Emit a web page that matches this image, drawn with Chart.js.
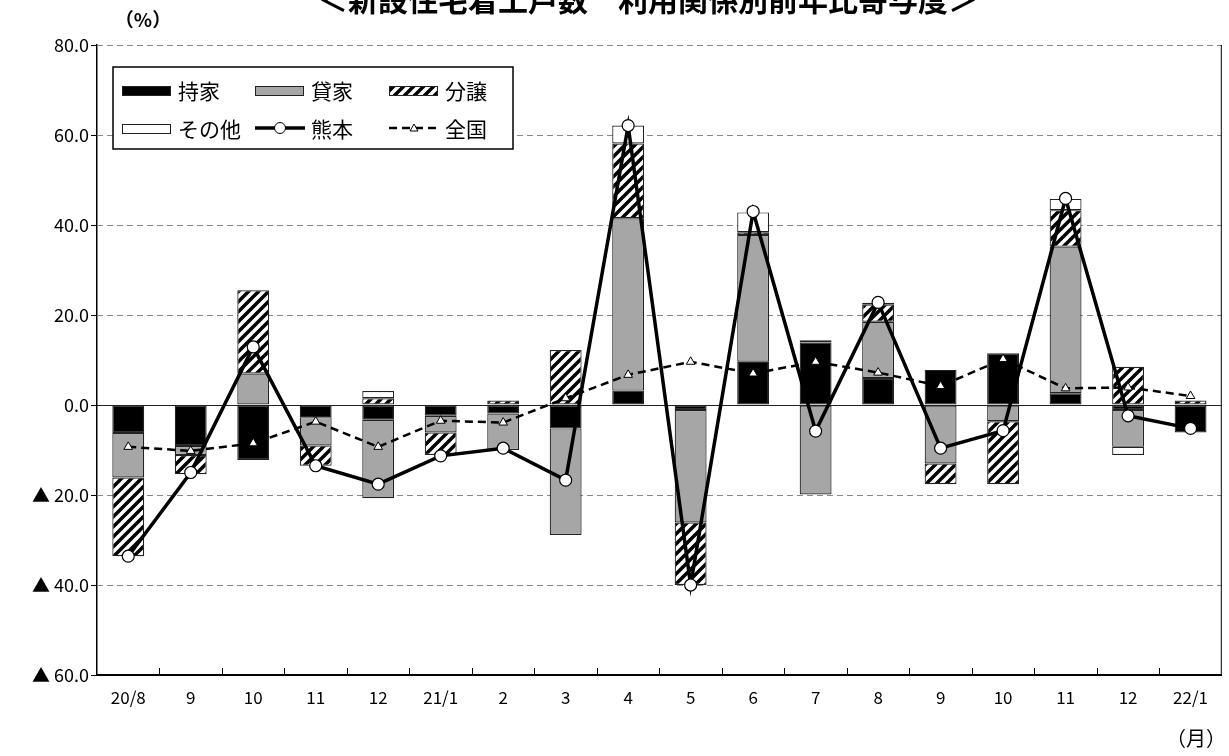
<!DOCTYPE html>
<html>
<head>
<meta charset="utf-8">
<script src="https://cdn.jsdelivr.net/npm/chart.js@4/dist/chart.umd.min.js"></script>
<style>
  html, body { margin: 0; padding: 0; background: #fff; }
  canvas { display: block; }
</style>
</head>
<body>
<canvas id="chart" width="1229" height="756"></canvas>
<script>
const months = ['20/8', '9', '10', '11', '12', '21/1', '2', '3', '4', '5', '6', '7', '8', '9', '10', '11', '12', '22/1'];
const owned   = [-6.2, -9.1, -12.2, -2.7, -3.3, -2.4, -1.9, -5.2, 3.2, -1.1, 9.6, 13.9, 6.0, 7.8, 11.5, 2.6, -1.1, -6.1];
const rental  = [-9.9, -2.0, 7.0, -6.3, -17.4, -3.7, -8.1, -23.7, 38.3, -25.0, 28.2, -19.9, 12.5, -13.0, -3.6, 32.6, -8.2, 0];
const forSale = [-17.5, -4.3, 18.5, -4.5, 1.5, -5.0, 1.0, 12.2, 16.6, -13.9, 0.6, 0.5, 3.8, -4.6, -14.0, 8.1, 8.5, 1.0];
const other   = [0, 0, 0, 0, 1.6, 0, 0, 0, 4.0, 0, 4.4, 0, 0.4, 0, 0, 2.5, -1.8, 0];
const kumamoto = [-33.6, -15.0, 12.9, -13.5, -17.6, -11.3, -9.6, -16.7, 62.1, -40.0, 43.0, -5.8, 22.8, -9.6, -5.7, 45.9, -2.4, -5.2];
const national = [-9.3, -10.2, -8.5, -3.7, -9.3, -3.5, -3.9, 1.5, 6.7, 9.6, 7.0, 9.6, 7.2, 4.2, 10.2, 3.7, 3.9, 2.0];
const yTicks = [80, 60, 40, 20, 0, -20, -40, -60];

const FONT = "'Noto Sans CJK JP', 'Noto Sans', sans-serif";

// diagonal hatch for 分譲
function makeHatch() {
    const c = document.createElement('canvas');
    c.width = 10; c.height = 10;
    const g = c.getContext('2d');
    g.fillStyle = '#fff';
    g.fillRect(0, 0, 10, 10);
    g.strokeStyle = '#000';
    g.lineWidth = 3.5;
    g.beginPath();
    g.moveTo(-5, 5); g.lineTo(5, -5);
    g.moveTo(0, 10); g.lineTo(10, 0);
    g.moveTo(5, 15); g.lineTo(15, 5);
    g.stroke();
    return g.createPattern(c, 'repeat');
}
const ctx = document.getElementById('chart').getContext('2d');
const hatch = makeHatch();

const barBase = {
    type: 'bar',
    stack: 'bars',
    borderColor: '#222',
    borderWidth: 1.2,
    borderSkipped: false,
    barPercentage: 0.51,
    categoryPercentage: 1,
    order: 2
};

const decorations = {
    id: 'decorations',
    beforeDatasetsDraw(chart) {
        const { ctx, chartArea: a, scales: { y } } = chart;
        ctx.save();
        yTicks.forEach(v => {
            if (v === -60) return;
            const py = Math.round(y.getPixelForValue(v)) + 0.5;
            ctx.beginPath();
            if (v === 0) {
                ctx.setLineDash([]);
                ctx.strokeStyle = '#222';
                ctx.lineWidth = 1.2;
            } else {
                ctx.setLineDash([6, 4]);
                ctx.strokeStyle = '#888';
                ctx.lineWidth = 1;
            }
            ctx.moveTo(a.left, py);
            ctx.lineTo(a.right, py);
            ctx.stroke();
        });
        ctx.restore();
    },
    afterDraw(chart) {
        const { ctx, chartArea: a, scales: { x } } = chart;
        ctx.save();
        // right border
        ctx.strokeStyle = '#000';
        ctx.lineWidth = 1;
        ctx.beginPath();
        ctx.moveTo(a.right - 0.5, a.top);
        ctx.lineTo(a.right - 0.5, a.bottom);
        ctx.stroke();
        // inner tick marks between months
        for (let i = 1; i < months.length; i++) {
            const px = Math.round((x.getPixelForTick(i - 1) + x.getPixelForTick(i)) / 2) + 0.5;
            ctx.beginPath();
            ctx.moveTo(px, a.bottom);
            ctx.lineTo(px, a.bottom - 7);
            ctx.stroke();
        }
        // title (cut off at top)
        ctx.fillStyle = '#000';
        ctx.textAlign = 'center';
        ctx.textBaseline = 'middle';
        ctx.font = 'bold 30px ' + FONT;
        ctx.fillText('＜新設住宅着工戸数　利用関係別前年比寄与度＞', 648, 0);
        // units
        ctx.font = 'bold 19px ' + FONT;
        ctx.fillText('（%）', 143, 20);
        ctx.font = '20px ' + FONT;
        ctx.fillText('（月）', 1196, 738);

        // legend
        const lx = 113, ly = 67, lw = 400, lh = 82;
        ctx.fillStyle = '#fff';
        ctx.fillRect(lx, ly, lw, lh);
        ctx.lineWidth = 1.5;
        ctx.strokeStyle = '#000';
        ctx.strokeRect(lx, ly, lw, lh);
        const ds = chart.data.datasets;
        const cols = [122, 255, 389];
        const rows = [90, 128];
        ds.forEach((d, i) => {
            const sx = cols[i % 3], sy = rows[Math.floor(i / 3)];
            ctx.save();
            if (d.type === 'bar') {
                ctx.fillStyle = d.backgroundColor;
                ctx.fillRect(sx, sy - 4, 48, 9);
                ctx.strokeStyle = '#222';
                ctx.lineWidth = 1;
                ctx.strokeRect(sx + 0.5, sy - 4 + 0.5, 48, 9);
            } else {
                ctx.strokeStyle = '#000';
                ctx.lineWidth = d.borderWidth;
                ctx.setLineDash(d.borderDash || []);
                ctx.beginPath();
                ctx.moveTo(sx, sy);
                ctx.lineTo(sx + 50, sy);
                ctx.stroke();
                ctx.setLineDash([]);
                ctx.fillStyle = '#fff';
                ctx.lineWidth = 1;
                ctx.beginPath();
                if (d.pointStyle === 'triangle') {
                    ctx.moveTo(sx + 25, sy - 4);
                    ctx.lineTo(sx + 29, sy + 3);
                    ctx.lineTo(sx + 21, sy + 3);
                    ctx.closePath();
                } else {
                    ctx.arc(sx + 25, sy, 5.5, 0, Math.PI * 2);
                }
                ctx.fill();
                ctx.stroke();
            }
            ctx.restore();
            ctx.fillStyle = '#000';
            ctx.textAlign = 'left';
            ctx.textBaseline = 'middle';
            ctx.font = '21px ' + FONT;
            ctx.fillText(d.label, sx + 56, sy + 1);
        });
        ctx.restore();
    }
};

new Chart(ctx, {
    data: {
        labels: months,
        datasets: [
            { ...barBase, label: '持家', data: owned, backgroundColor: '#000' },
            { ...barBase, label: '貸家', data: rental, backgroundColor: '#a6a6a6' },
            { ...barBase, label: '分譲', data: forSale, backgroundColor: hatch },
            { ...barBase, label: 'その他', data: other, backgroundColor: '#fff' },
            {
                type: 'line', label: '熊本', data: kumamoto, order: 0, stack: 'kumamoto',
                borderColor: '#000', borderWidth: 3.5, tension: 0,
                pointStyle: 'circle', pointRadius: 6, pointBackgroundColor: '#fff',
                pointBorderColor: '#000', pointBorderWidth: 1.2
            },
            {
                type: 'line', label: '全国', data: national, order: 1, stack: 'national',
                borderColor: '#000', borderWidth: 2.5, borderDash: [8, 5], tension: 0,
                pointStyle: 'triangle', pointRadius: 5, pointBackgroundColor: '#fff',
                pointBorderColor: '#000', pointBorderWidth: 1
            }
        ]
    },
    options: {
        responsive: false,
        animation: false,
        layout: { padding: { top: 45, right: 7, bottom: 0, left: 0 } },
        plugins: {
            legend: { display: false },
            tooltip: { enabled: false },
            title: { display: false }
        },
        scales: {
            x: {
                stacked: true,
                grid: { display: false, drawTicks: false },
                border: { display: true, color: '#000', width: 2 },
                ticks: {
                    color: '#000',
                    padding: 12,
                    maxRotation: 0,
                    autoSkip: false,
                    font: { family: FONT, size: 17 }
                },
                afterFit(scale) { scale.height = 81; }
            },
            y: {
                stacked: true,
                min: -60,
                max: 80,
                afterBuildTicks(scale) {
                    scale.ticks = yTicks.map(v => ({ value: v }));
                },
                grid: { drawOnChartArea: false, drawTicks: true, tickLength: 6, tickColor: '#000' },
                border: { display: true, color: '#000', width: 1.5 },
                ticks: {
                    color: '#000',
                    padding: 2,
                    font: { family: FONT, size: 18 },
                    callback: v => v < 0 ? '▲ ' + Math.abs(v).toFixed(1) : v.toFixed(1)
                },
                afterFit(scale) { scale.width = 97; }
            }
        }
    },
    plugins: [decorations]
});
</script>
</body>
</html>
